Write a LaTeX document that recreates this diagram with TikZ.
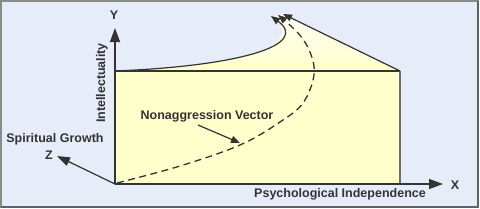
\documentclass[tikz,border=0pt]{standalone}
\usepackage{fontspec}
\setsansfont{Liberation Sans}
\usetikzlibrary{arrows.meta}
\definecolor{bgblue}{HTML}{E7EDF8}
\definecolor{paleyel}{HTML}{FFFFCC}
\definecolor{frame}{HTML}{8A8A8A}
\definecolor{ink}{HTML}{333333}
\tikzset{
  lbl/.style={font=\sffamily\bfseries\fontsize{12.5}{14}\selectfont, text=ink, inner sep=0pt},
  axis/.style={draw=ink, line width=1.2pt, -{Triangle[length=14pt,width=10pt]}},
  thin arrow/.style={draw=ink, line width=1.2pt, -{Triangle[length=9pt,width=7pt]}},
}
\begin{document}
\begin{tikzpicture}[x=1pt,y=-1pt]
\useasboundingbox (0,0) rectangle (480,209);
% background and frame
\draw[fill=bgblue, draw=frame, line width=1.5pt] (1,1) rectangle (478,207);
\draw[draw=frame!70!black, line width=1.5pt] (1,207) -- (478,207) -- (478,1);
% upper shaded region
\shade[top color=paleyel!25, bottom color=paleyel]
  (115,71) .. controls (240,66) and (310,45) .. (272,17) -- (283,14) -- (400,71) -- cycle;
% rectangle
\fill[paleyel] (115,71) rectangle (400,184);
\draw[draw=ink, line width=1.2pt] (115,71) -- (400,71);
\draw[draw=frame!80!black, line width=1.5pt] (400,71) -- (400,184);
% coordinates
\coordinate (O) at (115,184);
\coordinate (Ytip) at (115,28);
\coordinate (Xtip) at (443,184);
\coordinate (Ztip) at (57,156);
\coordinate (Rtl) at (115,71);
\coordinate (Rtr) at (400,71);
\coordinate (Ctip) at (271,16);
\coordinate (Ltip) at (283,14);
\coordinate (Dtip) at (278,15);
% curved boundary and line
\draw[thin arrow] (Rtl) .. controls (240,66) and (310,45) .. (Ctip);
\draw[thin arrow] (Rtr) -- (Ltip);
% dashed vector
\draw[draw=ink, line width=1.3pt, dash pattern=on 7pt off 4.5pt, -{Triangle[length=9pt,width=7pt]}]
  plot[smooth, tension=0.6] coordinates {(117,183) (180,166) (240,145) (280,122) (303,103) (314,75) (310,52) (298,33) (Dtip)};
% axes
\draw[axis] (O) -- (Ytip);
\draw[axis] (O) -- (Xtip);
\draw[draw=ink, line width=1.2pt, -{Triangle[length=13pt,width=9pt]}] (O) -- (Ztip);
% labels
\node[lbl] (ylab) at (114,15) {Y};
\node[lbl] (xlab) at (455,185) {X};
\node[lbl] (zlab) at (49,155) {Z};
\node[lbl] (sg) at (55,139) {Spiritual Growth};
\node[lbl, rotate=90] (intel) at (102,83) {Intellectuality};
\node[lbl] (pi) at (340,194) {Psychological Independence};
\node[lbl] (nv) at (207,116) {Nonaggression Vector};
\coordinate (nvtip) at (240,143);
\draw[thin arrow] (198,125) -- (nvtip);
\end{tikzpicture}
\end{document}
